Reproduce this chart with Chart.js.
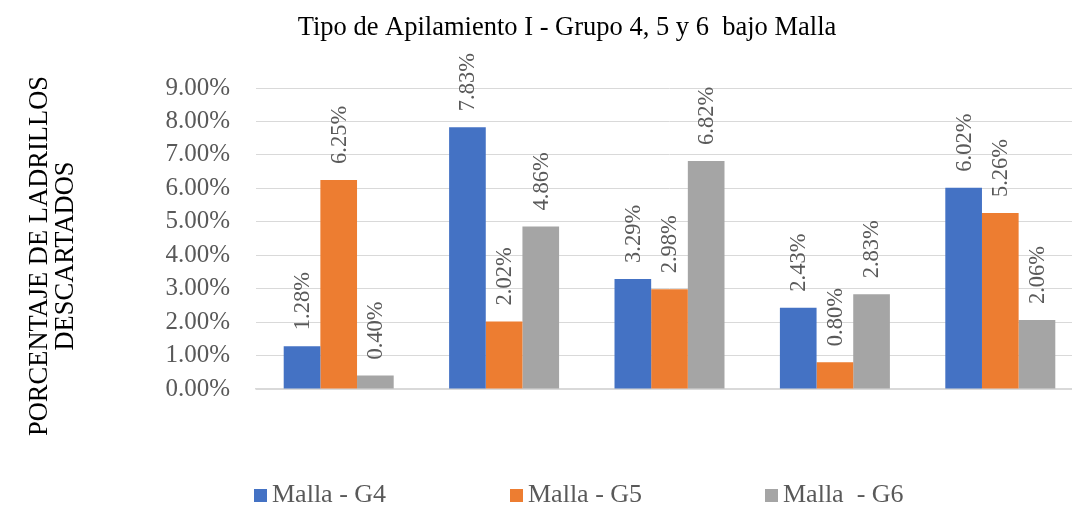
<!DOCTYPE html>
<html>
<head>
<meta charset="utf-8">
<script src="https://cdn.jsdelivr.net/npm/chart.js@4/dist/chart.umd.min.js"></script>
<style>
  html, body { margin: 0; padding: 0; background: #fff; overflow: hidden; }
</style>
</head>
<body>
<canvas id="chart" width="1083" height="512"></canvas>
<script>
const categories = ['1', '2', '3', '4', '5'];
const seriesNames = ['Malla - G4', 'Malla - G5', 'Malla  - G6'];
const g4 = [1.28, 7.83, 3.29, 2.43, 6.02];
const g5 = [6.25, 2.02, 2.98, 0.80, 5.26];
const g6 = [0.40, 4.86, 6.82, 2.83, 2.06];
const colors = ['#4472C4', '#ED7D31', '#A5A5A5'];
const titleText = 'Tipo de Apilamiento I - Grupo 4, 5 y 6  bajo Malla';
const yTitle = ['PORCENTAJE DE LADRILLOS', 'DESCARTADOS'];

const serif = '"Liberation Serif", "Times New Roman", serif';

// etiquetas verticales sobre cada barra
const barLabels = {
  id: 'barLabels',
  afterDatasetsDraw(chart) {
    const ctx = chart.ctx;
    ctx.save();
    ctx.font = '22.5px ' + serif;
    ctx.fillStyle = '#595959';
    ctx.textAlign = 'left';
    ctx.textBaseline = 'middle';
    chart.data.datasets.forEach((ds, i) => {
      chart.getDatasetMeta(i).data.forEach((bar, j) => {
        ctx.save();
        ctx.translate(bar.x + 1, bar.y - 16);
        ctx.rotate(-Math.PI / 2);
        ctx.fillText(ds.data[j].toFixed(2) + '%', 0, 0);
        ctx.restore();
      });
    });
    ctx.restore();
  }
};

// titulo, titulo del eje y leyenda
const decorations = {
  id: 'decorations',
  afterDraw(chart) {
    const ctx = chart.ctx;
    ctx.save();
    ctx.fillStyle = '#000';
    ctx.font = '26.5px ' + serif;
    ctx.textAlign = 'center';
    ctx.textBaseline = 'middle';
    ctx.fillText(titleText, 567, 28);

    ctx.font = '26.5px ' + serif;
    [40, 66].forEach((x, k) => {
      ctx.save();
      ctx.translate(x, 256);
      ctx.rotate(-Math.PI / 2);
      ctx.fillText(yTitle[k], 0, 0);
      ctx.restore();
    });

    const starts = [254, 510, 765];
    ctx.font = '26px ' + serif;
    ctx.textAlign = 'left';
    chart.data.datasets.forEach((ds, i) => {
      ctx.fillStyle = ds.backgroundColor;
      ctx.fillRect(starts[i], 489, 13, 13);
      ctx.fillStyle = '#595959';
      ctx.fillText(ds.label, starts[i] + 18, 495);
    });
    ctx.restore();
  }
};

new Chart(document.getElementById('chart'), {
  type: 'bar',
  data: {
    labels: categories,
    datasets: [g4, g5, g6].map((values, i) => ({
      label: seriesNames[i],
      data: values,
      backgroundColor: colors[i],
      borderWidth: 0,
      categoryPercentage: 0.665,
      barPercentage: 1
    }))
  },
  options: {
    responsive: false,
    animation: false,
    devicePixelRatio: 1,
    layout: { padding: { top: 88, right: 0, bottom: 123, left: 0 } },
    plugins: {
      legend: { display: false },
      title: { display: false },
      tooltip: { enabled: false }
    },
    scales: {
      x: {
        ticks: { display: false },
        grid: { display: false },
        border: { color: '#d9d9d9', width: 1.5 },
        afterFit(s) { s.height = 0; }
      },
      y: {
        min: 0,
        max: 9,
        ticks: {
          stepSize: 1,
          padding: 26,
          color: '#595959',
          font: { family: serif, size: 25 },
          callback: v => v.toFixed(2) + '%'
        },
        grid: { color: '#d9d9d9', drawTicks: false },
        border: { display: false },
        afterFit(s) { s.width = 256; }
      }
    }
  },
  plugins: [barLabels, decorations]
});
</script>
</body>
</html>
